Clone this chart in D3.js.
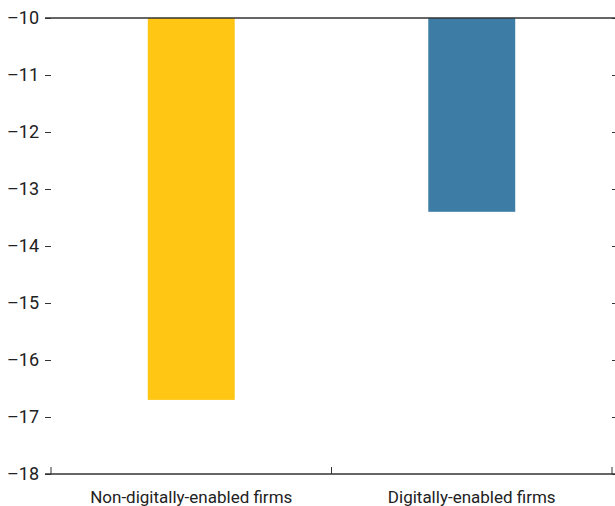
<!DOCTYPE html>
<html>
<head>
<meta charset="utf-8">
<script src="https://cdn.jsdelivr.net/npm/d3@7"></script>
<style>
    body { margin: 0; background: #fff; }
    svg { display: block; }
    text { font-family: "Liberation Sans Narrow", "Arial Narrow", "Roboto", sans-serif; fill: #222; }
</style>
</head>
<body>
<svg id="chart" width="615" height="506"></svg>
<script>
const categories = ["Non-digitally-enabled firms", "Digitally-enabled firms"];
const values = [-16.7, -13.4];
const barColors = ["#FFC614", "#3D7DA5"];
const yTicks = [-10, -11, -12, -13, -14, -15, -16, -17, -18];

const svg = d3.select("#chart");
const margin = {top: 18, left: 51, right: 3, bottom: 32};
const width = 615 - margin.left - margin.right;
const height = 506 - margin.top - margin.bottom;

const g = svg.append("g")
    .attr("transform", "translate(" + margin.left + "," + margin.top + ")");

const x = d3.scaleBand().domain(categories).range([0, width]).padding(0);
const y = d3.scaleLinear().domain([-10, -18]).range([0, height]);

const fmt = d => "\u2013" + Math.abs(d);

// bars hang from the top of the axis
const barW = x.bandwidth() * 0.31;
g.selectAll(".bar")
    .data(categories)
    .join("rect")
    .attr("class", "bar")
    .attr("x", d => x(d) + x.bandwidth() / 2 - barW / 2)
    .attr("y", y(-10))
    .attr("width", barW)
    .attr("height", (d, i) => y(values[i]) - y(-10))
    .attr("fill", (d, i) => barColors[i]);

// left axis: ticks + labels, no domain line
const yAxisL = g.append("g")
    .call(d3.axisLeft(y).tickValues(yTicks).tickFormat(fmt).tickSize(6).tickPadding(6));
yAxisL.select(".domain").remove();
yAxisL.selectAll("line").attr("stroke", "#333");
yAxisL.selectAll("text").style("font-size", "18px");

// right axis ticks
const yAxisR = g.append("g")
    .attr("transform", "translate(" + width + ",0)")
    .call(d3.axisRight(y).tickValues(yTicks).tickFormat("").tickSize(6));
yAxisR.select(".domain").remove();
yAxisR.selectAll("line").attr("stroke", "#333");

// top line at -10
g.append("line")
    .attr("x1", -6).attr("x2", width + 6)
    .attr("y1", y(-10)).attr("y2", y(-10))
    .attr("stroke", "#333").attr("stroke-width", 1.3);

// bottom axis with boundary ticks pointing up
g.append("line")
    .attr("x1", -6).attr("x2", width + 6)
    .attr("y1", height).attr("y2", height)
    .attr("stroke", "#333").attr("stroke-width", 1.3);

const bounds = [0, x.step(), width];
g.selectAll(".btick")
    .data(bounds)
    .join("line")
    .attr("class", "btick")
    .attr("x1", d => d).attr("x2", d => d)
    .attr("y1", height).attr("y2", height - 7)
    .attr("stroke", "#333");

g.selectAll(".xlabel")
    .data(categories)
    .join("text")
    .attr("class", "xlabel")
    .attr("x", d => x(d) + x.bandwidth() / 2)
    .attr("y", height + 29)
    .attr("text-anchor", "middle")
    .style("font-size", "17px")
    .text(d => d);
</script>
</body>
</html>
